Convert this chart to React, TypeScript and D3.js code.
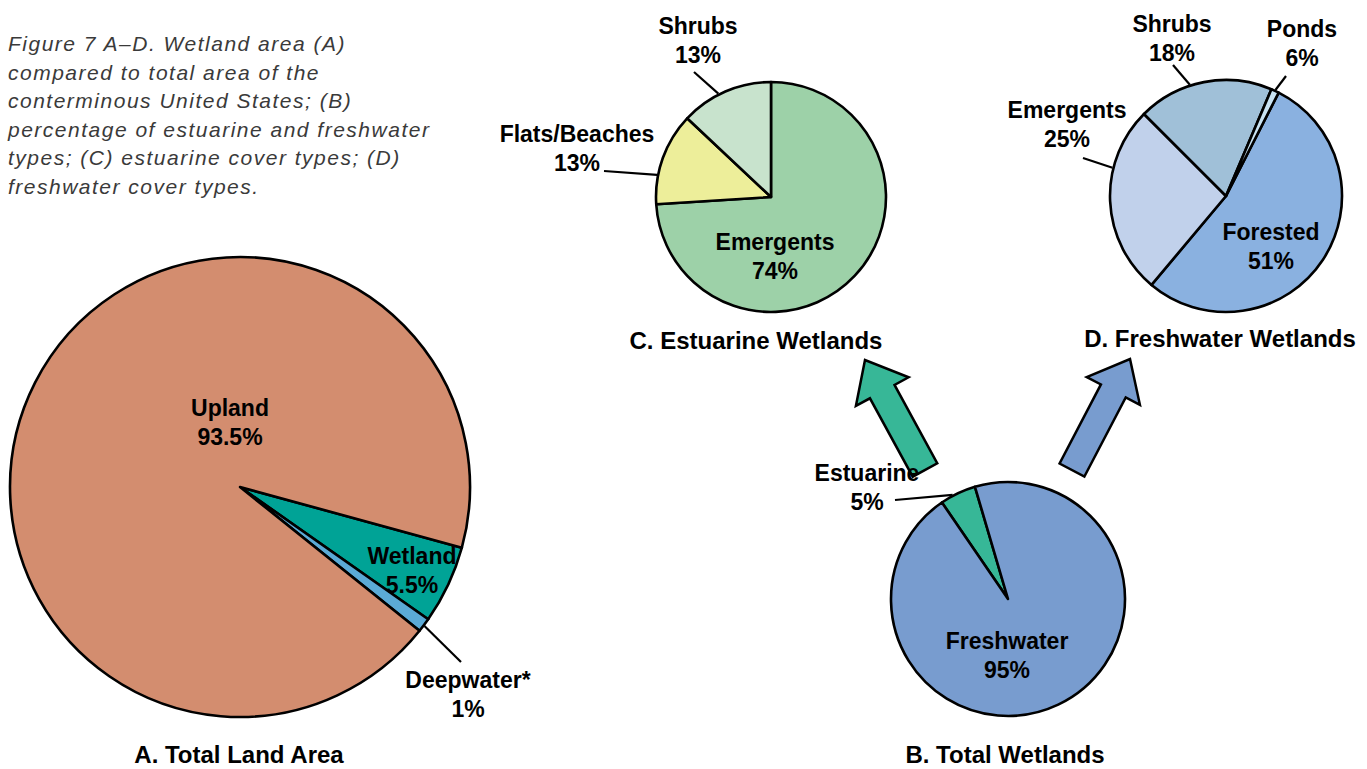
import React from "react";
import * as d3 from "d3";

// ---------- DATA ----------
const captionLines = [
  "Figure 7 A–D. Wetland area (A)",
  "compared to total area of the",
  "conterminous United States; (B)",
  "percentage of estuarine and freshwater",
  "types; (C) estuarine cover types; (D)",
  "freshwater cover types.",
];

const landCategories = ["Wetland", "Deepwater*", "Upland"];
const landValues = [5.5, 1, 93.5];
const landLabels = ["5.5%", "1%", "93.5%"];

const wetlandCategories = ["Estuarine", "Freshwater"];
const wetlandValues = [5, 95];
const wetlandLabels = ["5%", "95%"];

const estuarineCategories = ["Emergents", "Flats/Beaches", "Shrubs"];
const estuarineValues = [74, 13, 13];
const estuarineLabels = ["74%", "13%", "13%"];

const freshwaterCategories = ["Forested", "Emergents", "Shrubs", "Ponds"];
// shares as drawn in the picture (ponds slice is drawn very thin)
const freshwaterValues = [53.6, 26.4, 18.9, 1.1];
const freshwaterLabels = ["51%", "25%", "18%", "6%"];

const titles = ["A. Total Land Area", "B. Total Wetlands", "C. Estuarine Wetlands", "D. Freshwater Wetlands"];

// ---------- STYLE / LAYOUT ----------
const landColors = ["#00A396", "#5BAAD6", "#D38D6F"];
const wetlandColors = ["#37B797", "#789CCF"];
const estuarineColors = ["#9DD1A8", "#EDEE9A", "#C8E3CD"];
const freshwaterColors = ["#8AB1E0", "#C1D1EB", "#A0C0D8", "#C9E3F3"];

const FONT = "'Liberation Sans', Arial, sans-serif";
const deg = Math.PI / 180;

type LabelPos = { x: number; y: number; leader?: { angle: number; x: number; y: number } };

type PieSpec = {
  cx: number; cy: number; r: number; start: number;
  cats: string[]; values: number[]; labels: string[]; colors: string[];
  labelPos: LabelPos[];
  title: string; titlePos: [number, number];
};

const pies: PieSpec[] = [
  {
    cx: 240, cy: 487, r: 230, start: 105.3,
    cats: landCategories, values: landValues, labels: landLabels, colors: landColors,
    labelPos: [
      { x: 412, y: 564 },
      { x: 468, y: 688, leader: { angle: 127, x: 461, y: 662 } },
      { x: 230, y: 416 },
    ],
    title: titles[0], titlePos: [239, 763],
  },
  {
    cx: 1008, cy: 599, r: 117, start: -34.4,
    cats: wetlandCategories, values: wetlandValues, labels: wetlandLabels, colors: wetlandColors,
    labelPos: [
      { x: 867, y: 481, leader: { angle: -28, x: 895, y: 500 } },
      { x: 1007, y: 649 },
    ],
    title: titles[1], titlePos: [1005, 763],
  },
  {
    cx: 771, cy: 197, r: 115, start: 0,
    cats: estuarineCategories, values: estuarineValues, labels: estuarineLabels, colors: estuarineColors,
    labelPos: [
      { x: 775, y: 250 },
      { x: 577, y: 142, leader: { angle: -79, x: 604, y: 171 } },
      { x: 698, y: 34, leader: { angle: -27, x: 694, y: 72 } },
    ],
    title: titles[2], titlePos: [756, 349],
  },
  {
    cx: 1226, cy: 196, r: 116, start: 27,
    cats: freshwaterCategories, values: freshwaterValues, labels: freshwaterLabels, colors: freshwaterColors,
    labelPos: [
      { x: 1271, y: 240 },
      { x: 1067, y: 118, leader: { angle: -76, x: 1083, y: 158 } },
      { x: 1172, y: 32, leader: { angle: -18, x: 1173, y: 65 } },
      { x: 1302, y: 37, leader: { angle: 25, x: 1286, y: 76 } },
    ],
    title: titles[3], titlePos: [1220, 347],
  },
];

const arrows = [
  { base: [925, 470], tip: [865, 360], color: "#37B797" },
  { base: [1072, 470], tip: [1130, 359], color: "#789CCF" },
];

function arrowPath(base: number[], tip: number[]) {
  const shaftW = 28, headW = 60, headL = 36;
  const dx = tip[0] - base[0], dy = tip[1] - base[1];
  const len = Math.hypot(dx, dy);
  const ux = dx / len, uy = dy / len;
  const nx = -uy, ny = ux;
  const hb = [tip[0] - ux * headL, tip[1] - uy * headL];
  const p = (x: number, y: number) => [x, y];
  const pts = [
    p(base[0] + nx * shaftW / 2, base[1] + ny * shaftW / 2),
    p(hb[0] + nx * shaftW / 2, hb[1] + ny * shaftW / 2),
    p(hb[0] + nx * headW / 2, hb[1] + ny * headW / 2),
    p(tip[0], tip[1]),
    p(hb[0] - nx * headW / 2, hb[1] - ny * headW / 2),
    p(hb[0] - nx * shaftW / 2, hb[1] - ny * shaftW / 2),
    p(base[0] - nx * shaftW / 2, base[1] - ny * shaftW / 2),
  ];
  return d3.line()(pts as [number, number][]) + "Z";
}

function Pie({ spec }: { spec: PieSpec }) {
  const s = spec.start * deg;
  const pie = d3.pie<number>().sort(null).startAngle(s).endAngle(s + 2 * Math.PI);
  const arcs = pie(spec.values);
  const arc = d3.arc<d3.PieArcDatum<number>>().innerRadius(0).outerRadius(spec.r);
  return (
    <g transform={`translate(${spec.cx},${spec.cy})`}>
      {arcs.map((a, i) => (
        <path key={i} d={arc(a) || ""} fill={spec.colors[i]} stroke="#000" strokeWidth={2.6} strokeLinejoin="round" />
      ))}
      {spec.labelPos.map((lp, i) =>
        lp.leader ? (
          <line key={"l" + i}
            x1={lp.leader.x - spec.cx} y1={lp.leader.y - spec.cy}
            x2={Math.sin(lp.leader.angle * deg) * (spec.r + 1)}
            y2={-Math.cos(lp.leader.angle * deg) * (spec.r + 1)}
            stroke="#000" strokeWidth={2.2} />
        ) : null
      )}
    </g>
  );
}

function PieLabels({ spec }: { spec: PieSpec }) {
  return (
    <g fontFamily={FONT} fontWeight="bold" fontSize={23} textAnchor="middle" fill="#000">
      {spec.labelPos.map((lp, i) => (
        <g key={i}>
          <text x={lp.x} y={lp.y}>{spec.cats[i]}</text>
          <text x={lp.x} y={lp.y + 29}>{spec.labels[i]}</text>
        </g>
      ))}
      <text x={spec.titlePos[0]} y={spec.titlePos[1]} fontSize={24}>{spec.title}</text>
    </g>
  );
}

export default function App() {
  return (
    <svg width={1367} height={769} style={{ position: "absolute", left: 0, top: 0, background: "#fff" }}>
      <g fontFamily={FONT} fontStyle="italic" fontSize={21} fill="#3a3a3a" letterSpacing={1.5}>
        {captionLines.map((t, i) => (
          <text key={i} x={8} y={51 + i * 28.5}>{t}</text>
        ))}
      </g>
      {pies.map((p, i) => <Pie key={i} spec={p} />)}
      {arrows.map((a, i) => (
        <path key={i} d={arrowPath(a.base, a.tip)} fill={a.color} stroke="#000" strokeWidth={2.5} strokeLinejoin="miter" />
      ))}
      {pies.map((p, i) => <PieLabels key={i} spec={p} />)}
    </svg>
  );
}
